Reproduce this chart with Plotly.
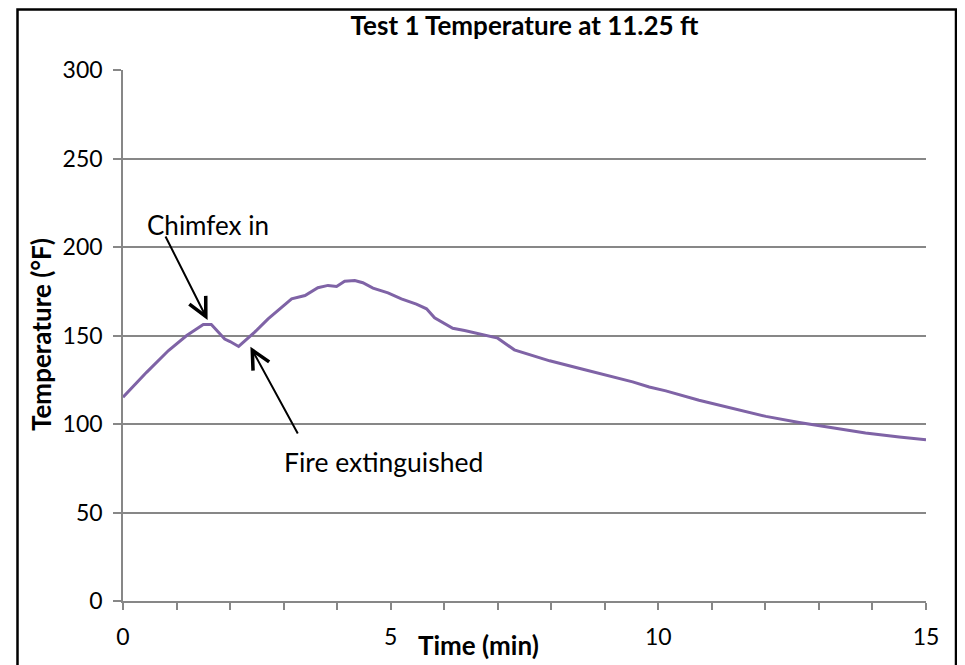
import plotly.graph_objects as go

# Data
time_min = [0, 0.44, 0.85, 1.19, 1.5, 1.65, 1.9, 2.0, 2.16, 2.46, 2.71, 3.15, 3.4, 3.64,
            3.83, 3.99, 4.14, 4.33, 4.48, 4.67, 4.95, 5.2, 5.48, 5.67, 5.82, 6.16, 6.38,
            6.69, 7.0, 7.31, 7.78, 7.97, 8.59, 9.02, 9.52, 9.83, 10.14, 10.76, 11.39,
            12.01, 12.63, 13.25, 13.87, 14.5, 15.0]
temp_f = [115.1, 129.2, 141.5, 150.0, 156.2, 156.2, 148.0, 146.6, 143.8, 151.9, 159.4,
          170.7, 172.6, 177.0, 178.3, 177.7, 180.7, 181.1, 179.8, 176.8, 174.1, 170.7,
          167.7, 165.1, 160.0, 154.1, 152.8, 150.6, 148.5, 141.9, 137.5, 135.7, 130.9,
          127.5, 123.8, 120.9, 118.7, 113.4, 108.7, 104.3, 100.9, 97.9, 94.9, 92.6, 91.1]

x_tickvals = list(range(16))
x_ticktext = ["0", "", "", "", "", "5", "", "", "", "", "10", "", "", "", "", "15"]
y_tickvals = [0, 50, 100, 150, 200, 250, 300]

# annotation anchors (data coordinates)
chimfex_text_xy = (1.59, 212.4)
chimfex_head_xy = (1.58, 158.8)
chimfex_tail_xy = (0.78, 206.8)
fire_text_xy = (4.87, 78.7)
fire_head_xy = (2.38, 143.7)
fire_tail_xy = (3.28, 93.8)

FONT = "Lato, Carlito, Calibri, sans-serif"
GRID = "#878787"

# page body has an 8px default margin; plot area target: x 123-926, y 70-601 on screen
OFF = 8
W, H = 965 - OFF, 665 - OFF
L, T = 123 - OFF, 70 - OFF
R = W - (926 - OFF)
B = H - (601 - OFF)
PW, PH = 926 - 123, 601 - 70


def px_to_paper_x(px):
    return (px - 123) / PW


def px_to_paper_y(py):
    return (601 - py) / PH


fig = go.Figure()
fig.add_trace(go.Scatter(x=time_min, y=temp_f, mode="lines",
                         line=dict(color="#7F63A6", width=3),
                         showlegend=False, hoverinfo="x+y"))

fig.update_layout(
    width=W, height=H,
    margin=dict(l=L, r=R, t=T, b=B),
    paper_bgcolor="white", plot_bgcolor="white",
    font=dict(family=FONT, color="black", size=23),
    title=dict(text="<b>Test 1 Temperature at 11.25 ft</b>",
               font=dict(family=FONT, size=26, color="black"),
               x=0.5, xref="paper", xanchor="center",
               y=1 - (26 - OFF) / H, yref="container", yanchor="middle"),
    xaxis=dict(range=[0, 15], tickvals=x_tickvals, ticktext=x_ticktext,
               showgrid=False, zeroline=False, showline=True,
               linecolor=GRID, linewidth=1.5, ticks="outside", ticklen=7,
               tickwidth=1.5, tickcolor=GRID, ticklabelstandoff=8,
               tickfont=dict(family=FONT, size=23, color="black")),
    yaxis=dict(range=[0, 300], tickvals=y_tickvals,
               showgrid=True, gridcolor=GRID, gridwidth=1.5,
               zeroline=False, showline=True, linecolor=GRID, linewidth=1.5,
               ticks="outside", ticklen=8, tickwidth=1.5, tickcolor=GRID,
               ticklabelstandoff=6,
               tickfont=dict(family=FONT, size=23, color="black")),
)

# axis titles as annotations
fig.add_annotation(text="<b>Time (min)</b>", xref="paper", yref="paper",
                   x=px_to_paper_x(478), y=px_to_paper_y(645),
                   xanchor="center", yanchor="middle", showarrow=False,
                   font=dict(family=FONT, size=26, color="black"))
fig.add_annotation(text="<b>Temperature (°F)</b>", xref="paper", yref="paper",
                   x=px_to_paper_x(41), y=px_to_paper_y(335), textangle=-90,
                   xanchor="center", yanchor="middle", showarrow=False,
                   font=dict(family=FONT, size=26, color="black"))

# callout texts
fig.add_annotation(text="Chimfex in", x=chimfex_text_xy[0], y=chimfex_text_xy[1],
                   showarrow=False, font=dict(family=FONT, size=26, color="black"))
fig.add_annotation(text="Fire extinguished", x=fire_text_xy[0], y=fire_text_xy[1],
                   showarrow=False, font=dict(family=FONT, size=26.5, color="black"))

# arrows
for head, tail in [(chimfex_head_xy, chimfex_tail_xy), (fire_head_xy, fire_tail_xy)]:
    fig.add_annotation(x=head[0], y=head[1], ax=tail[0], ay=tail[1],
                       xref="x", yref="y", axref="x", ayref="y", text="",
                       showarrow=True, arrowhead=5, arrowsize=1.8, arrowwidth=2,
                       arrowcolor="black")

# outer black frame (top edge kept just inside the figure so it stays visible)
fig.add_shape(type="rect", xref="paper", yref="paper",
              x0=px_to_paper_x(17.5), x1=px_to_paper_x(956),
              y0=px_to_paper_y(690), y1=px_to_paper_y(9.5),
              line=dict(color="black", width=2.5), fillcolor="rgba(0,0,0,0)",
              layer="above")

fig.write_html("out.html")
